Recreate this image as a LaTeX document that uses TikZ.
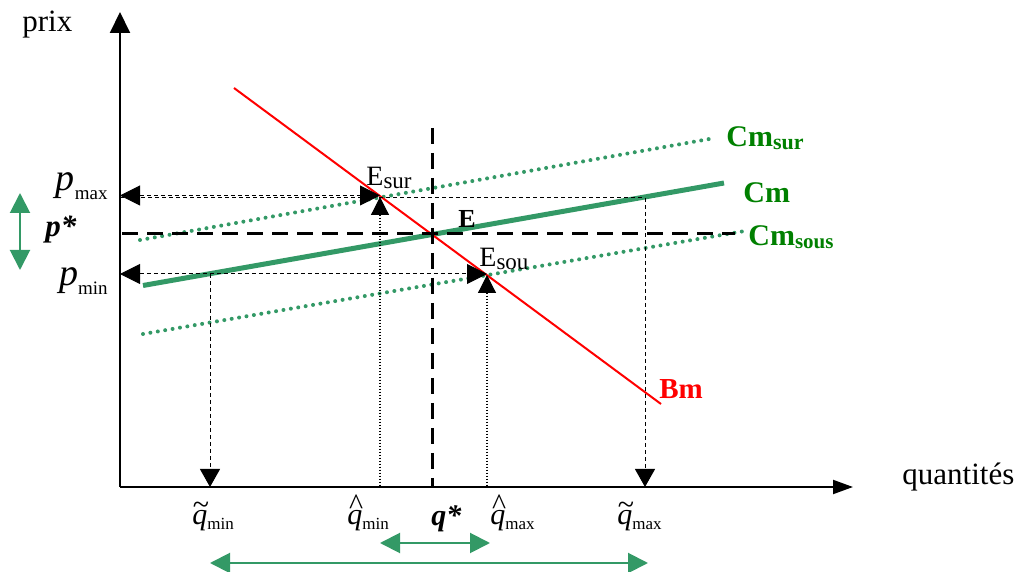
\documentclass[tikz,border=0pt]{standalone}
\usepackage{fontspec}
\setmainfont{Liberation Serif}
\usetikzlibrary{arrows.meta}
\definecolor{lgreen}{RGB}{51,153,102}
\definecolor{tgreen}{RGB}{0,128,0}
\newcommand{\lsub}[3]{\raisebox{#1}{\fontsize{#2}{#2}\selectfont #3}}
\newcommand{\fs}[1]{\fontsize{#1}{#1}\selectfont}
\newcommand{\accq}[2]{\ooalign{\itshape q\cr\hidewidth\kern1.2pt\raisebox{#1}{\upshape #2}\hidewidth\cr}}
\begin{document}
\begin{tikzpicture}[x=0.5pt,y=-0.5pt,
  yaxis/.style={line width=1pt,-{Triangle[length=10.5pt,width=10pt]}},
  xaxis/.style={line width=1pt,-{Triangle[length=10pt,width=7pt]}},
  thindash/.style={line width=0.5pt,dash pattern=on 2pt off 1.5pt},
  thindot/.style={line width=0.6pt,dash pattern=on 0.6pt off 0.9pt},
  bigdash/.style={line width=1.5pt,dash pattern=on 8pt off 4.5pt},
  blkend/.style={-{Triangle[length=9pt,width=10pt]}},
  blkstart/.style={{Triangle[length=9pt,width=9pt]}-},
  blkboth/.style={{Triangle[length=10pt,width=10pt]}-{Triangle[length=10pt,width=10pt]}},
  garrow/.style={draw=lgreen,line width=1pt,{Triangle[length=10pt,width=10pt]}-{Triangle[length=10pt,width=10pt]}},
  gdots/.style={draw=lgreen,line width=2pt,line cap=round,dash pattern=on 0pt off 3.75pt},
  gsolid/.style={draw=lgreen,line width=2.5pt},
  redline/.style={draw=red,line width=1pt},
  lbl/.style={inner sep=0pt,anchor=base west},
  glbl/.style={inner sep=0pt,anchor=base west,text=tgreen,font=\bfseries}
]
\useasboundingbox (0,0) rectangle (1019,572);
% coordinates
\coordinate (O) at (120,487);
\coordinate (Ytop) at (120,12);
\coordinate (Xend) at (853,487);
\coordinate (B1) at (234,88);
\coordinate (B2) at (661,404);
\coordinate (C1) at (143,285.5);
\coordinate (C2) at (724,183);
\coordinate (S1) at (140,240);
\coordinate (S2) at (715,138);
\coordinate (U1) at (143,334);
\coordinate (U2) at (742,231.5);
\coordinate (E) at (432,234);
\coordinate (Esur) at (380,197);
\coordinate (Esou) at (487,275);
\coordinate (PsL) at (122,234);
\coordinate (PsR) at (735,234);
\coordinate (QsT) at (432,128);
\coordinate (QsB) at (432,487);
\coordinate (PmaxA) at (120,195.5);
\coordinate (EsurA) at (380,195.5);
\coordinate (PmaxB) at (120,198);
\coordinate (TmaxC) at (645,198);
\coordinate (TmaxX) at (645,487);
\coordinate (PminA) at (120,274);
\coordinate (EsouA) at (487,274);
\coordinate (TminC) at (210,274);
\coordinate (TminX) at (210,487);
\coordinate (HminX) at (380,487);
\coordinate (HmaxX) at (487,487);
\coordinate (GvT) at (20,193);
\coordinate (GvB) at (20,270);
\coordinate (GsL) at (380,543);
\coordinate (GsR) at (490,543);
\coordinate (GlL) at (210,563);
\coordinate (GlR) at (648,563);

% curves
\draw[gdots] (S1) -- (S2);
\draw[gdots] (U1) -- (U2);
\draw[gsolid] (C1) -- (C2);
\draw[redline] (B1) -- (B2);

% equilibrium lines
\draw[bigdash] (PsL) -- (PsR);
\draw[bigdash] (QsT) -- (QsB);

% guide lines
\draw[thindash,blkboth] (PmaxA) -- (EsurA);
\draw[thindash] (PmaxB) -- (TmaxC);
\draw[thindash,blkend] (TmaxC) -- (TmaxX);
\draw[thindash,blkboth] (PminA) -- (EsouA);
\draw[thindash,blkend] (TminC) -- (TminX);
\draw[thindot,blkstart] (Esur) -- (HminX);
\draw[thindot,blkstart] (Esou) -- (HmaxX);

% axes
\draw[yaxis] (O) -- (Ytop);
\draw[xaxis] (O) -- (Xend);

% green ranges
\draw[garrow] (GvT) -- (GvB);
\draw[garrow] (GsL) -- (GsR);
\draw[garrow] (GlL) -- (GlR);

% labels
\node[lbl] (prix) at (22,32) {\fs{15.5}prix};
\node[lbl] (quant) at (902,485) {\fs{15.5}quantités};
\node[inner sep=0pt,anchor=base east] (pmax) at (108,191) {\fs{19}\textit{p}\lsub{-4.5pt}{9.5}{max}};
\node[inner sep=0pt,anchor=base east] (pmin) at (108,286) {\fs{19}\textit{p}\lsub{-4.5pt}{9.5}{min}};
\node[lbl] (pstar) at (45,237) {\fs{15.5}\textbf{\textit{p*}}};
\node[lbl] (Elsur) at (366,186) {\fs{14}E\lsub{-1.5pt}{11.5}{sur}};
\node[lbl] (Elab) at (458,228) {\fs{13}\textbf{E}};
\node[lbl] (Elsou) at (479,267) {\fs{14}E\lsub{-1.5pt}{11.5}{sou}};
\node[glbl] (Cmsur) at (726,147) {\fs{15}Cm\lsub{-1.5pt}{11}{sur}};
\node[glbl] (Cm) at (743,203) {\fs{15}Cm};
\node[glbl] (Cmsous) at (748,246) {\fs{15}Cm\lsub{-1.5pt}{10.5}{sous}};
\node[lbl,text=red,font=\bfseries] (Bm) at (659,399) {\fs{14.5}Bm};
\node[lbl] (qtmin) at (192,525) {\fs{15}\accq{5.5pt}{\textasciitilde}\lsub{-2pt}{8.5}{min}};
\node[lbl] (qhmin) at (347,525) {\fs{15}\accq{5.5pt}{\textasciicircum}\lsub{-2pt}{8.5}{min}};
\node[lbl] (qstar) at (431,526) {\fs{15}\textbf{\textit{q*}}};
\node[lbl] (qhmax) at (490,525) {\fs{15}\accq{5.5pt}{\textasciicircum}\lsub{-2pt}{8.5}{max}};
\node[lbl] (qtmax) at (617,525) {\fs{15}\accq{5.5pt}{\textasciitilde}\lsub{-2pt}{8.5}{max}};
\end{tikzpicture}
\end{document}
